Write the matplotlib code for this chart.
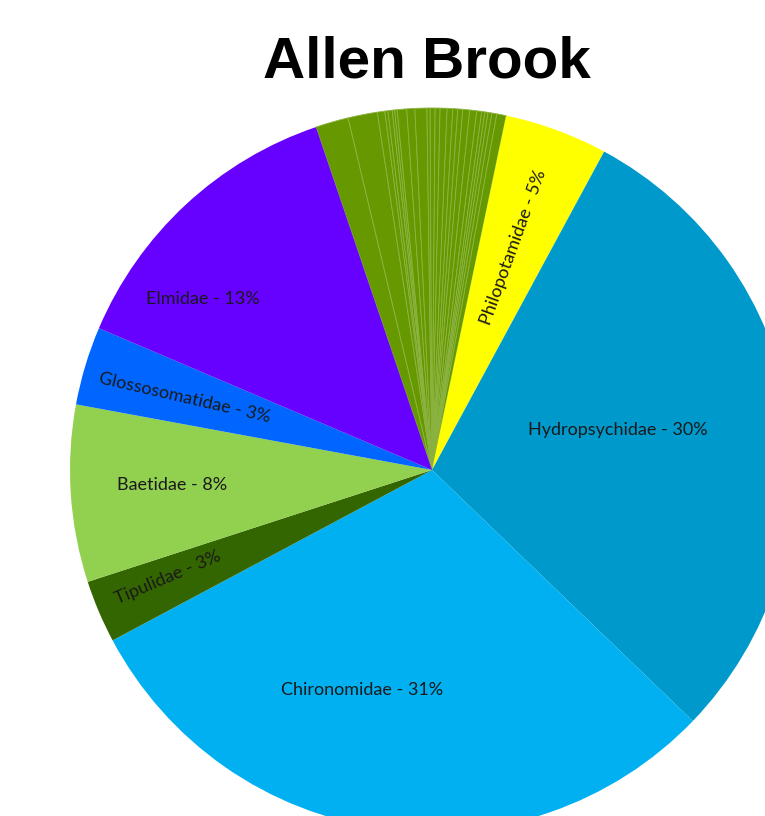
import matplotlib.pyplot as plt

# Family shares (%), clockwise from the Elmidae / minor-family boundary
families = ["Philopotamidae", "Hydropsychidae", "Chironomidae", "Tipulidae",
            "Baetidae", "Glossosomatidae", "Elmidae"]
family_pct = [4.6, 29.3, 30.0, 2.8, 7.9, 3.5, 13.4]
family_colors = ["#FFFF00", "#0099CC", "#00B0F0", "#336600",
                 "#92D050", "#0066FF", "#6600FF"]
family_labels = ["Philopotamidae - 5%", "Hydropsychidae - 30%", "Chironomidae - 31%",
                 "Tipulidae - 3%", "Baetidae - 8%", "Glossosomatidae - 3%", "Elmidae - 13%"]

# many rare families, all in the same olive green, unlabeled
minor_pct = [1.47, 1.31, 0.33, 0.14, 0.19, 0.11, 0.11, 0.42, 0.36, 0.53, 0.14, 0.22,
             0.22, 0.31, 0.25, 0.22, 0.22, 0.31, 0.31, 0.22, 0.14, 0.14, 0.17, 0.22, 0.42]
minor_color = "#669900"

# label placement (data coords, pie radius = 1) and rotation
label_xy = [(0.224, 0.616), (0.514, 0.110), (-0.193, -0.608), (-0.729, -0.298),
            (-0.718, -0.041), (-0.682, 0.199), (-0.633, 0.472)]
label_rot = [70, 0, 0, 23, 0, -13, 0]

W, H = 765, 816
cx, cy, r = 432, 470, 362

fig = plt.figure(figsize=(W / 100, H / 100), dpi=100)
ax = fig.add_axes([(cx - r) / W, (H - cy - r) / H, 2 * r / W, 2 * r / H])

values = minor_pct + family_pct
colors = [minor_color] * len(minor_pct) + family_colors
wedges, _ = ax.pie(values, colors=colors, startangle=108.7, counterclock=False,
                   radius=1, wedgeprops=dict(linewidth=0))
for w in wedges[:len(minor_pct)]:
    w.set_edgecolor("#8DB443")
    w.set_linewidth(0.6)

for lab, (x, y), rot in zip(family_labels, label_xy, label_rot):
    ax.text(x, y, lab, ha="center", va="center", rotation=rot,
            rotation_mode="anchor", fontsize=13, family="Lato", color="#1a1a1a")

ax.set_xlim(-1, 1)
ax.set_ylim(-1, 1)
ax.set_aspect("equal")
ax.axis("off")

fig.text(427 / W, 1 - 62 / H, "Allen Brook", ha="center", va="center",
         fontsize=42, fontweight="bold", family="Liberation Sans")

fig.savefig("out.png", dpi=100)
